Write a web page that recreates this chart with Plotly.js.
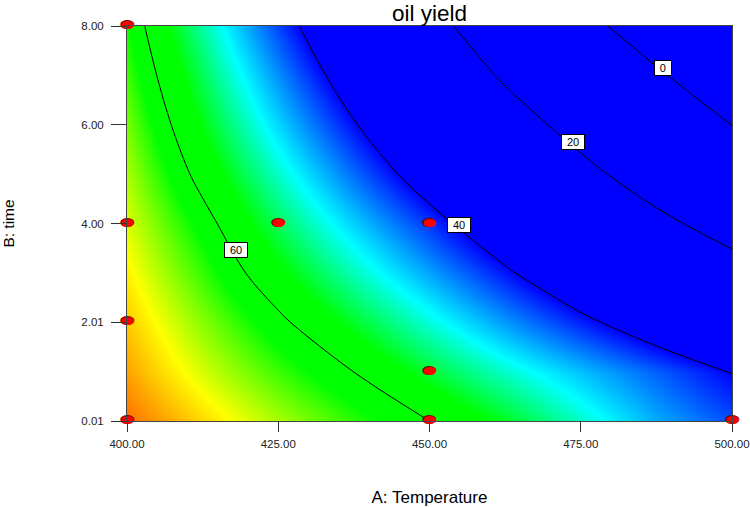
<!DOCTYPE html>
<html>
<head>
<meta charset="utf-8">
<script src="https://cdn.plot.ly/plotly-3.0.1.min.js"></script>
<style>
  html, body { margin: 0; padding: 0; background: #fff; }
  #plot { width: 750px; height: 507px; }
</style>
</head>
<body>
<div id="plot"></div>
<script>
// A: Temperature (columns) and B: time (rows) of the read-off grid
const tempGrid = [400, 412.5, 425, 437.5, 450, 462.5, 475, 487.5, 500];
const timeGrid = [0.01, 1, 2, 3, 4, 5, 6, 7, 8];

// oil yield, one row per time value
const yieldRows = [
  [72.5, 69.2, 66.0, 63.0, 60.0, 56.2, 51.5, 46.8, 43.0],
  [70.9, 67.0, 63.4, 60.0, 55.6, 51.5, 47.6, 43.8, 39.9],
  [69.7, 65.2, 60.8, 56.0, 51.0, 46.1, 41.3, 36.6, 31.9],
  [68.4, 63.2, 57.6, 51.9, 46.4, 40.8, 35.0, 29.5, 23.9],
  [67.2, 61.3, 54.6, 48.2, 42.0, 35.5, 28.7, 22.3, 15.9],
  [66.0, 58.8, 51.5, 44.2, 37.0, 29.9, 22.6, 15.2, 7.9],
  [64.8, 56.6, 48.5, 40.4, 32.3, 24.4, 16.6, 8.2, -0.1],
  [63.5, 54.6, 45.6, 36.7, 27.7, 18.8, 9.9, 1.4, -8.1],
  [62.3, 52.5, 42.7, 32.9, 23.1, 13.3, 3.5, -6.3, -16.1]
];

// contour levels and the time at which each label sits
const levels = [60, 40, 20, 0];
const labelTimes = [3.47, 3.97, 5.65, 7.15];

// design points
const designTemp = [400, 400, 400, 400, 425, 450, 450, 450, 500];
const designTime = [8, 4, 2.01, 0.01, 4, 4, 1, 0.01, 0.01];

// tick labels
const tempTicks = [400, 425, 450, 475, 500];
const tempTickText = ["400.00", "425.00", "450.00", "475.00", "500.00"];
const timeTicks = [0.01, 2.01, 4, 6, 8];
const timeTickText = ["0.01", "2.01", "4.00", "6.00", "8.00"];

// where does a level cross a given time? (linear between grid nodes)
function tempAt(level, time) {
  let r = 0;
  while (r < timeGrid.length - 2 && timeGrid[r + 1] < time) r++;
  const f = (time - timeGrid[r]) / (timeGrid[r + 1] - timeGrid[r]);
  const row = yieldRows[r].map((v, j) => v + f * (yieldRows[r + 1][j] - v));
  for (let j = 0; j < row.length - 1; j++) {
    if ((row[j] - level) * (row[j + 1] - level) <= 0) {
      const g = (row[j] - level) / (row[j] - row[j + 1]);
      return tempGrid[j] + g * (tempGrid[j + 1] - tempGrid[j]);
    }
  }
  return null;
}

const zLo = 40, zHi = 76;
const stop = (z) => (z - zLo) / (zHi - zLo);
const colors = [
  [0, "rgb(0,0,255)"],
  [stop(50), "rgb(0,255,255)"],
  [stop(57), "rgb(0,255,0)"],
  [stop(62), "rgb(0,255,0)"],
  [stop(68), "rgb(255,255,0)"],
  [1, "rgb(255,0,0)"]
];

const surface = {
  type: "heatmap",
  x: tempGrid,
  y: timeGrid,
  z: yieldRows,
  zsmooth: "best",
  colorscale: colors,
  zmin: zLo,
  zmax: zHi,
  showscale: false,
  hoverinfo: "skip"
};

const lines = {
  type: "contour",
  x: tempGrid,
  y: timeGrid,
  z: yieldRows,
  contours: { start: 0, end: 60, size: 20, coloring: "none", showlabels: false },
  line: { color: "#000", width: 1, smoothing: 1 },
  showscale: false,
  hoverinfo: "skip"
};

// red ellipses with a dark rim, drawn as text so they are not clipped at the frame
const ellipse = "\u2B2C";
const pointsBack = {
  type: "scatter",
  mode: "text",
  x: designTemp,
  y: designTime,
  text: designTemp.map(() => ellipse),
  textfont: { family: "DejaVu Sans", size: 17, color: "#7a0000" },
  cliponaxis: false,
  hoverinfo: "skip"
};
const pointsFront = {
  type: "scatter",
  mode: "text",
  x: designTemp,
  y: designTime,
  text: designTemp.map(() => ellipse),
  textfont: { family: "DejaVu Sans", size: 15, color: "#ff0000" },
  cliponaxis: false,
  hoverinfo: "skip"
};

const labels = levels.map((lv, i) => ({
  x: tempAt(lv, labelTimes[i]),
  y: labelTimes[i],
  xref: "x",
  yref: "y",
  xshift: 5,
  text: String(lv),
  showarrow: false,
  font: { family: "Liberation Sans, Arial, sans-serif", size: 11, color: "#000" },
  bgcolor: "#fff",
  bordercolor: "#000",
  borderwidth: 1,
  borderpad: 1,
  width: String(lv).length * 6.5 + 7,
  height: 12
}));

const axisFont = { family: "Liberation Sans, Arial, sans-serif", size: 11.5, color: "#222" };

const layout = {
  width: 750,
  height: 507,
  margin: { l: 127, r: 18, t: 26, b: 86 },
  paper_bgcolor: "#fff",
  plot_bgcolor: "#fff",
  showlegend: false,
  font: { family: "Liberation Sans, Arial, sans-serif", color: "#000" },
  title: {
    text: "oil yield",
    font: { size: 22.5, color: "#000" },
    xref: "paper",
    x: 0.5,
    xanchor: "center",
    yref: "container",
    y: 0.975,
    yanchor: "middle"
  },
  xaxis: {
    range: [400, 500],
    tickvals: tempTicks,
    ticktext: tempTickText,
    ticks: "outside",
    ticklen: 10,
    tickcolor: "#333",
    tickfont: axisFont,
    ticklabelstandoff: 2,
    showline: true,
    linecolor: "#444",
    mirror: true,
    showgrid: false,
    zeroline: false,
    title: { text: "A: Temperature", font: { size: 17, color: "#000" }, standoff: 42 }
  },
  yaxis: {
    range: [0.01, 8],
    tickvals: timeTicks,
    ticktext: timeTickText,
    ticks: "outside",
    ticklen: 15,
    tickcolor: "#333",
    tickfont: axisFont,
    ticklabelstandoff: 5,
    showline: true,
    linecolor: "#444",
    mirror: true,
    showgrid: false,
    zeroline: false,
    title: { text: "B: time", font: { size: 15.5, color: "#000" }, standoff: 62 }
  },
  annotations: labels
};

Plotly.newPlot("plot", [surface, lines, pointsBack, pointsFront], layout, {
  displayModeBar: false,
  staticPlot: true
});
</script>
</body>
</html>
